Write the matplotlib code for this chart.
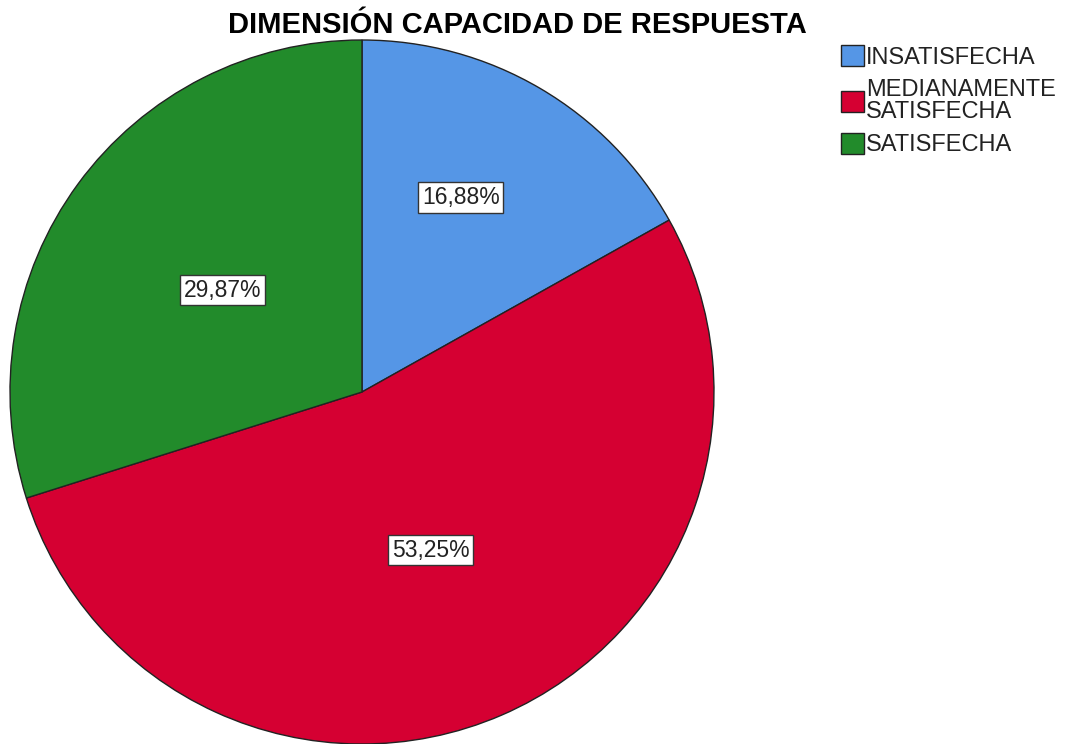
import numpy as np
import matplotlib.pyplot as plt

# Data
categories = ["INSATISFECHA", "MEDIANAMENTE\nSATISFECHA", "SATISFECHA"]
percentages = [16.88, 53.25, 29.87]
pct_labels = ["16,88%", "53,25%", "29,87%"]
colors = ["#5596E6", "#D50032", "#228B2B"]

plt.rcParams["font.family"] = ["Liberation Sans", "DejaVu Sans"]

fig = plt.figure(figsize=(10.67, 7.44), dpi=100)
# pie centred at (362, 392) px with radius ~352 px
ax = fig.add_axes([10 / 1067, 0.0, 704 / 1067, 704 / 744])

wedges, _ = ax.pie(percentages, colors=colors, startangle=90, counterclock=False,
                   radius=1.0, wedgeprops=dict(edgecolor="#222222", linewidth=1.0))
ax.set_xlim(-1.0, 1.0)
ax.set_ylim(-1.0, 1.0)
ax.set_aspect("equal")

# label boxes: distance from centre and small angle nudge per slice
label_dist = [0.62, 0.49, 0.49]
label_nudge = [3.5, 0.0, 0.0]
for w, txt, d, nd in zip(wedges, pct_labels, label_dist, label_nudge):
    mid = np.deg2rad((w.theta1 + w.theta2) / 2 + nd)
    ax.text(d * np.cos(mid), d * np.sin(mid), txt, ha="center", va="center",
            fontsize=16.5, color="#222222",
            bbox=dict(boxstyle="square,pad=0.16", fc="white", ec="#333333", lw=1.0))

fig.text(517 / 1067, 1 - 25 / 744, "DIMENSIÓN CAPACIDAD DE RESPUESTA",
         ha="center", va="center", fontsize=21, fontweight="bold")

leg = fig.legend(wedges, categories, loc="upper left", bbox_to_anchor=(832 / 1067, 1 - 36 / 744),
                 frameon=False, fontsize=17, handlelength=0.95, handleheight=0.95,
                 handletextpad=0.1, labelspacing=0.45, borderaxespad=0)
for t in leg.get_texts():
    t.set_linespacing(0.95)
    t.set_color("#222222")

fig.savefig("out.png", dpi=100)
